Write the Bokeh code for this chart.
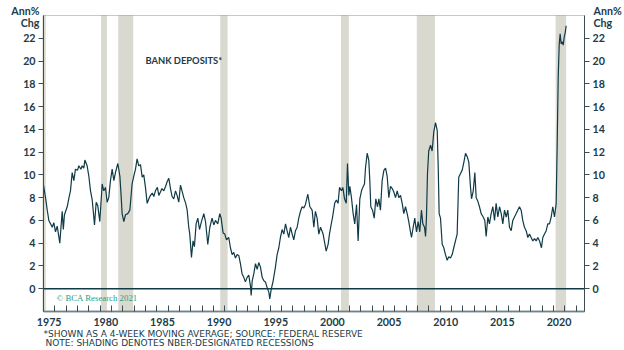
from bokeh.plotting import figure
from bokeh.models import (Range1d, FixedTicker, LinearAxis, Label, BoxAnnotation,
                          CustomJSTickFormatter)
from bokeh.embed import file_html
from bokeh.resources import INLINE

# ---------------- data ----------------
years = [
    1975.00, 1975.18, 1975.33, 1975.47, 1975.62, 1975.77, 1975.91, 1976.06, 1976.21, 1976.44,
    1976.55, 1976.65, 1976.75, 1976.85, 1977.09, 1977.25, 1977.38, 1977.53, 1977.68, 1977.82,
    1978.00, 1978.12, 1978.30, 1978.41, 1978.56, 1978.65, 1978.85, 1979.00, 1979.15, 1979.30,
    1979.44, 1979.50, 1979.65, 1979.79, 1979.97, 1980.18, 1980.32, 1980.47, 1980.62, 1980.76,
    1980.91, 1981.06, 1981.21, 1981.35, 1981.56, 1981.74, 1981.85, 1981.94, 1982.09, 1982.24,
    1982.44, 1982.62, 1982.82, 1982.97, 1983.12, 1983.26, 1983.41, 1983.56, 1983.71, 1983.85,
    1984.00, 1984.15, 1984.30, 1984.44, 1984.60, 1984.74, 1984.88, 1985.05, 1985.18, 1985.32,
    1985.45, 1985.62, 1985.78, 1985.91, 1986.06, 1986.21, 1986.35, 1986.50, 1986.65, 1986.79,
    1986.94, 1987.09, 1987.25, 1987.38, 1987.55, 1987.68, 1987.82, 1987.91, 1988.06, 1988.20,
    1988.32, 1988.47, 1988.62, 1988.77, 1988.94, 1989.15, 1989.30, 1989.50, 1989.68, 1989.88,
    1990.03, 1990.18, 1990.38, 1990.56, 1990.68, 1990.85, 1991.00, 1991.15, 1991.35, 1991.50,
    1991.65, 1991.79, 1991.94, 1992.09, 1992.24, 1992.38, 1992.53, 1992.68, 1992.82, 1992.97,
    1993.12, 1993.27, 1993.33, 1993.42, 1993.56, 1993.71, 1993.86, 1994.00, 1994.15, 1994.30,
    1994.45, 1994.59, 1994.74, 1994.89, 1994.97, 1995.09, 1995.27, 1995.47, 1995.62, 1995.77,
    1995.91, 1996.06, 1996.21, 1996.36, 1996.50, 1996.65, 1996.80, 1996.95, 1997.09, 1997.24,
    1997.39, 1997.53, 1997.68, 1997.83, 1997.98, 1998.12, 1998.33, 1998.51, 1998.71, 1998.86,
    1999.00, 1999.15, 1999.30, 1999.45, 1999.68, 1999.95, 2000.12, 2000.24, 2000.40, 2000.50,
    2000.70, 2000.85, 2001.00, 2001.13, 2001.30, 2001.42, 2001.57, 2001.72, 2001.83, 2001.95,
    2002.04, 2002.18, 2002.33, 2002.47, 2002.63, 2002.77, 2002.92, 2003.07, 2003.18, 2003.33,
    2003.42, 2003.57, 2003.71, 2003.80, 2003.89, 2004.04, 2004.19, 2004.33, 2004.48, 2004.60,
    2004.74, 2004.89, 2005.04, 2005.19, 2005.33, 2005.48, 2005.63, 2005.78, 2005.92, 2006.07,
    2006.22, 2006.36, 2006.51, 2006.66, 2006.80, 2006.95, 2007.10, 2007.24, 2007.39, 2007.48,
    2007.63, 2007.77, 2007.92, 2008.07, 2008.21, 2008.36, 2008.48, 2008.63, 2008.72, 2008.80,
    2008.89, 2009.00, 2009.16, 2009.30, 2009.45, 2009.60, 2009.75, 2009.84, 2009.92, 2010.04,
    2010.19, 2010.33, 2010.48, 2010.63, 2010.77, 2010.92, 2011.07, 2011.21, 2011.36, 2011.51,
    2011.65, 2011.80, 2011.95, 2012.10, 2012.25, 2012.40, 2012.54, 2012.69, 2012.78, 2012.93,
    2013.07, 2013.19, 2013.33, 2013.48, 2013.63, 2013.81, 2013.95, 2014.07, 2014.22, 2014.36,
    2014.51, 2014.66, 2014.81, 2014.95, 2015.10, 2015.25, 2015.40, 2015.54, 2015.69, 2015.84,
    2015.98, 2016.13, 2016.28, 2016.42, 2016.57, 2016.72, 2016.86, 2017.01, 2017.16, 2017.30,
    2017.45, 2017.60, 2017.75, 2017.89, 2018.04, 2018.19, 2018.34, 2018.48, 2018.63, 2018.78,
    2018.95, 2019.07, 2019.22, 2019.37, 2019.51, 2019.66, 2019.81, 2019.95, 2020.10, 2020.25,
    2020.34, 2020.43, 2020.52, 2020.60, 2020.69, 2020.78, 2020.87, 2020.96, 2021.05, 2021.13,
]
deposits = [
    9.1, 8.0, 6.9, 6.0, 5.7, 5.4, 5.8, 5.0, 5.5, 4.0,
    5.5, 6.8, 5.2, 6.5, 7.2, 8.0, 8.6, 10.2, 9.5, 10.5,
    10.4, 10.8, 10.5, 10.8, 10.6, 11.3, 10.8, 9.9, 8.6, 7.8,
    6.3, 5.6, 7.6, 7.3, 5.9, 9.2, 8.6, 8.9, 7.6, 8.0,
    9.5, 10.5, 9.5, 10.2, 11.0, 9.9, 8.2, 6.6, 5.9, 6.5,
    6.6, 6.9, 9.2, 9.9, 10.5, 11.4, 10.8, 10.9, 9.8, 10.0,
    8.9, 7.5, 7.9, 8.2, 8.4, 8.1, 8.6, 8.9, 8.2, 8.5,
    8.8, 8.6, 9.0, 9.4, 9.7, 8.8, 8.1, 7.9, 8.6, 8.2,
    7.6, 9.1, 8.5, 8.0, 7.5, 6.9, 5.4, 4.8, 2.75, 4.2,
    3.7, 5.7, 6.2, 5.2, 5.9, 6.6, 5.9, 3.9, 5.4, 6.2,
    5.6, 6.0, 5.7, 6.6, 6.2, 4.9, 4.8, 4.3, 4.5, 3.6,
    3.0, 3.2, 2.7, 3.0, 2.9, 2.2, 1.3, 1.0, 0.6, 1.0,
    1.2, 0.2, -0.6, 0.7, 1.3, 2.2, 1.7, 2.3, 1.9, 1.0,
    0.7, 0.6, 0.1, -0.3, -0.9, -0.1, 0.7, 1.9, 3.0, 3.6,
    4.5, 5.2, 4.8, 5.7, 5.1, 4.5, 5.4, 4.8, 4.3, 5.1,
    5.4, 6.2, 6.8, 7.2, 7.1, 7.4, 8.3, 7.2, 6.9, 5.4,
    6.8, 6.2, 4.8, 5.4, 4.8, 3.3, 3.9, 4.8, 5.7, 6.2,
    7.5, 7.8, 7.5, 8.9, 8.6, 8.9, 7.9, 7.5, 11.0, 8.2,
    9.0, 8.0, 6.6, 5.7, 7.4, 4.2, 7.9, 8.6, 8.9, 9.2,
    10.6, 11.9, 11.3, 9.5, 7.2, 6.9, 6.2, 7.9, 7.2, 7.9,
    6.9, 9.5, 10.4, 10.6, 9.9, 8.0, 9.0, 8.8, 8.5, 8.0,
    8.6, 8.0, 8.2, 7.5, 6.6, 7.2, 6.6, 5.9, 5.0, 4.5,
    5.4, 6.2, 5.0, 5.9, 5.0, 6.9, 5.7, 5.4, 4.6, 6.2,
    10.1, 12.1, 12.6, 12.1, 13.8, 14.6, 13.9, 10.6, 6.6, 6.2,
    3.9, 3.6, 3.0, 2.5, 2.8, 2.7, 3.0, 3.6, 4.2, 4.8,
    9.8, 10.1, 10.4, 11.1, 11.9, 11.6, 11.1, 8.9, 7.9, 8.6,
    10.2, 8.0, 7.7, 7.2, 6.6, 6.3, 6.0, 4.6, 6.3, 5.7,
    6.6, 7.2, 6.0, 7.5, 6.3, 7.2, 6.6, 5.7, 6.9, 6.3,
    6.9, 5.4, 5.1, 6.0, 6.3, 6.6, 6.9, 7.2, 6.9, 6.0,
    5.4, 5.1, 4.5, 4.8, 4.5, 4.2, 4.4, 4.2, 4.5, 4.2,
    3.6, 4.5, 4.8, 5.1, 5.7, 5.7, 6.3, 7.2, 6.3, 7.5,
    12.7, 18.6, 21.5, 22.4, 21.5, 21.7, 21.4, 22.1, 22.5, 23.1,
]
recession_start = [1974.9, 1980.08, 1981.6, 1990.6, 2001.25, 2007.95, 2020.2]
recession_end = [1975.2, 1980.6, 1982.92, 1991.25, 2001.95, 2009.55, 2021.13]
y_ticks = [0, 2, 4, 6, 8, 10, 12, 14, 16, 18, 20, 22]
x_label_years = [1975, 1980, 1985, 1990, 1995, 2000, 2005, 2010, 2015, 2020]
x_minor_years = list(range(1975, 2023))

# ---------------- styling ----------------
TXT = "#223b47"
LINE = "#0f3a46"
SHADE = "#d9d9d0"
AXC = "#3a4d55"
FONT = "Lato"

W, H = 624, 350
# plot box in canvas pixels
PL, PR, PT, PB = 43, 584, 15, 311
X0, X1 = 1975.0, 2022.75
Y0, Y1 = -2.0, 24.0
sx = (PR - PL) / (X1 - X0)
sy = (PB - PT) / (Y1 - Y0)
xr = Range1d(X0 - PL / sx, X1 + (W - PR) / sx)
yr = Range1d(Y0 - (H - PB) / sy, Y1 + PT / sy)

def px_x(px):
    return X0 + (px - PL) / sx

def px_y(py):
    return Y1 - (py - PT) / sy

p = figure(width=W, height=H, output_backend="svg", toolbar_location=None,
           x_range=xr, y_range=yr, min_border=0,
           background_fill_color="white", border_fill_color="white")
p.grid.visible = False
p.outline_line_color = None

# recession shading
p.quad(left=recession_start, right=recession_end, bottom=Y0, top=Y1,
       fill_color=SHADE, line_color=None)

# zero line across the plot box
p.line([X0, X1], [0, 0], line_color=LINE, line_width=1.3)

# series
p.line(years, deposits, line_color=LINE, line_width=1.2)

# plot box outline
p.add_layout(BoxAnnotation(left=X0, right=X1, bottom=Y0, top=Y1, fill_color=None,
                           line_color=AXC, line_width=1))

# x axis
xa = p.xaxis[0]
xa.fixed_location = Y0
xa.bounds = (X0, X1)
xa.ticker = FixedTicker(ticks=[y + 0.5 for y in x_label_years], minor_ticks=x_minor_years)
xa.formatter = CustomJSTickFormatter(code="return Math.floor(tick).toString();")
xa.major_tick_in = 0
xa.major_tick_out = 0
xa.minor_tick_in = 6
xa.minor_tick_out = 0
xa.minor_tick_line_color = AXC
xa.axis_line_color = "#8a979c"
xa.axis_line_width = 2
xa.major_label_standoff = 6
xa.major_label_text_font = FONT
xa.major_label_text_font_style = "bold"
xa.major_label_text_font_size = "8pt"
xa.major_label_text_color = TXT

# y axes
def style_y(ax):
    ax.ticker = FixedTicker(ticks=y_ticks)
    ax.bounds = (Y0, Y1)
    ax.major_tick_in = 0
    ax.major_tick_out = 5
    ax.minor_tick_line_color = None
    ax.major_tick_line_color = AXC
    ax.axis_line_color = AXC
    ax.major_label_standoff = 3
    ax.major_label_text_font = FONT
    ax.major_label_text_font_style = "bold"
    ax.major_label_text_font_size = "8pt"
    ax.major_label_text_color = TXT

ya = p.yaxis[0]
ya.fixed_location = X0
style_y(ya)
ra = LinearAxis(fixed_location=X1)
style_y(ra)
p.add_layout(ra, "right")

def label(x, y, text, align="left", size="8pt", bold=False, color=TXT, font=FONT):
    p.add_layout(Label(x=x, y=y, text=text, text_align=align, text_baseline="middle",
                       text_font=font, text_font_style="bold" if bold else "normal",
                       text_font_size=size, text_color=color))

# unit labels
label(px_x(39), px_y(10), "Ann%", align="right", bold=True)
label(px_x(39), px_y(22), "Chg", align="right", bold=True)
label(px_x(593), px_y(10), "Ann%", bold=True)
label(px_x(593), px_y(22), "Chg", bold=True)

# title
label(px_x(145), px_y(60), "BANK DEPOSITS*", size="7pt", bold=True)

# copyright
label(px_x(56), px_y(297), "\u00a9 BCA Research 2021", size="8.8px",
      color="#22a386", font="Liberation Serif")

# footnotes
label(px_x(43), px_y(333), "*SHOWN AS A 4-WEEK MOVING AVERAGE; SOURCE: FEDERAL RESERVE",
      size="9px", font="DejaVu Sans")
label(px_x(45), px_y(342), "NOTE: SHADING DENOTES NBER-DESIGNATED RECESSIONS",
      size="9px", font="DejaVu Sans")

open("out.html", "w").write(file_html(p, INLINE))
